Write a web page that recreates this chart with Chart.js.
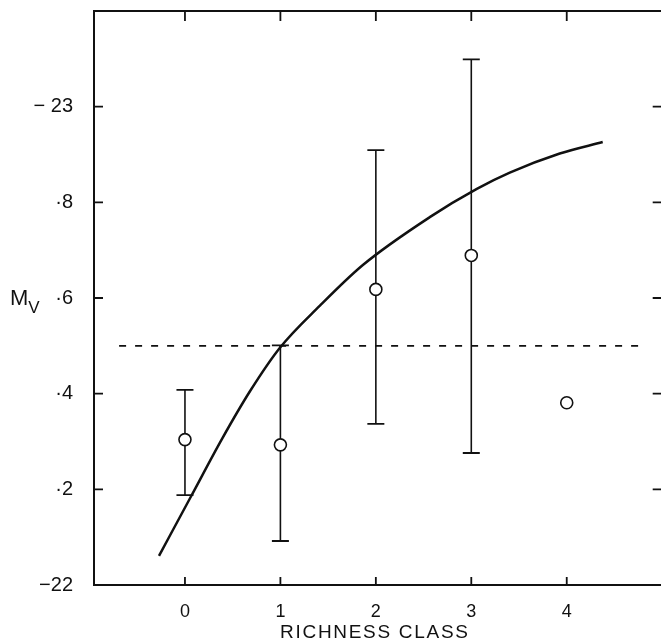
<!DOCTYPE html>
<html>
<head>
<meta charset="utf-8">
<script src="https://cdn.jsdelivr.net/npm/chart.js@4/dist/chart.umd.min.js"></script>
<style>
  html, body { margin: 0; padding: 0; background: #fff; overflow: hidden; }
  #c { position: absolute; left: 0; top: 0; width: 670px; height: 641px; }
</style>
</head>
<body>
<canvas id="c" width="670" height="641"></canvas>
<script>
// Richness classes with mean absolute magnitude and error-bar bounds
const classes   = [0, 1, 2, 3, 4];
const meanMv    = [-22.304, -22.293, -22.618, -22.689, -22.381];
const errBright = [-22.408, -22.501, -22.909, -23.099, null];
const errFaint  = [-22.188, -22.092, -22.337, -22.276, null];

// Model curve of Mv against richness class
const curveClass = [-0.272, 0.063, 0.387, 0.681, 0.995, 1.414, 1.864, 2.565, 3.058, 3.403, 3.927, 4.377];
const curveMv    = [-22.061, -22.185, -22.305, -22.405, -22.496, -22.584, -22.669, -22.769, -22.828, -22.862, -22.902, -22.926];

// Dashed constant level
const levelMv    = -22.5;
const levelSpan  = [-0.69, 4.82];

// Axis ticks and labels
const xTickValues = [0, 1, 2, 3, 4];
const xTickLabels = ['0', '1', '2', '3', '4'];
const yTickValues = [-23, -22.8, -22.6, -22.4, -22.2, -22];
const yTickLabels = ['\u2212 23', '\u00b78', '\u00b76', '\u00b74', '\u00b72', '\u221222'];
const xTitle = 'RICHNESS CLASS';
const yTitle = 'M';
const yTitleSub = 'V';

const INK = '#111';
const FONT = '"Liberation Sans", Arial, sans-serif';

const datasets = [];

// mean points (drawn on top)
datasets.push({
  data: classes.map((c, i) => ({ x: c, y: meanMv[i] })),
  showLine: false,
  pointStyle: 'circle',
  pointRadius: 6,
  pointBorderWidth: 1.6,
  pointBackgroundColor: '#fff',
  pointBorderColor: INK,
  order: 0
});

// error bars with caps
classes.forEach((c, i) => {
  if (errBright[i] === null) return;
  datasets.push({
    data: [{ x: c, y: errFaint[i] }, { x: c, y: errBright[i] }],
    showLine: true,
    borderColor: INK,
    borderWidth: 1.6,
    pointStyle: 'line',
    pointRadius: 8.5,
    pointBorderWidth: 1.8,
    pointBorderColor: INK,
    order: 2
  });
});

// model curve
datasets.push({
  data: curveClass.map((c, i) => ({ x: c, y: curveMv[i] })),
  showLine: true,
  borderColor: INK,
  borderWidth: 2.5,
  pointRadius: 0,
  cubicInterpolationMode: 'monotone',
  order: 1
});

// dashed level
datasets.push({
  data: levelSpan.map(x => ({ x: x, y: levelMv })),
  showLine: true,
  borderColor: INK,
  borderWidth: 1.7,
  borderDash: [7, 9],
  pointRadius: 0,
  order: 3
});

// inward tick marks, top frame line and axis titles
const framePlugin = {
  id: 'frame',
  afterDraw(chart) {
    const { ctx, chartArea: a, scales } = chart;
    const xs = scales.x, ys = scales.y;
    ctx.save();
    ctx.strokeStyle = INK;
    ctx.lineCap = 'butt';

    ctx.lineWidth = 2;
    ctx.beginPath();
    ctx.moveTo(a.left - 1, a.top);
    ctx.lineTo(a.right + 4, a.top);
    ctx.stroke();

    ctx.lineWidth = 1.8;
    ctx.beginPath();
    yTickValues.forEach(v => {
      const py = ys.getPixelForValue(v);
      ctx.moveTo(a.left, py); ctx.lineTo(a.left + 9, py);
      ctx.moveTo(a.right + 4, py); ctx.lineTo(a.right - 7, py);
    });
    xTickValues.forEach(v => {
      const px = xs.getPixelForValue(v);
      ctx.moveTo(px, a.bottom); ctx.lineTo(px, a.bottom - 8);
      ctx.moveTo(px, a.top); ctx.lineTo(px, a.top + 10);
    });
    ctx.stroke();

    ctx.fillStyle = INK;
    ctx.textBaseline = 'alphabetic';
    ctx.textAlign = 'center';
    ctx.font = '19px ' + FONT;
    ctx.letterSpacing = '1.7px';
    ctx.fillText(xTitle, (a.left + a.right) / 2 - 2, chart.height - 3);
    ctx.letterSpacing = '0px';

    ctx.textAlign = 'left';
    ctx.font = '22px ' + FONT;
    ctx.fillText(yTitle, 10, 305);
    const mW = ctx.measureText(yTitle).width;
    ctx.font = '17px ' + FONT;
    ctx.fillText(yTitleSub, 10 + mW, 313);
    ctx.restore();
  }
};

new Chart(document.getElementById('c'), {
  type: 'scatter',
  data: { datasets },
  plugins: [framePlugin],
  options: {
    responsive: false,
    animation: false,
    layout: { padding: { top: 11, right: 0, left: 0, bottom: 0 } },
    plugins: { legend: { display: false }, tooltip: { enabled: false } },
    scales: {
      x: {
        type: 'linear',
        min: -0.953,
        max: 4.974,
        grid: { display: false },
        border: { display: true, color: INK, width: 2 },
        afterBuildTicks: s => { s.ticks = xTickValues.map(v => ({ value: v })); },
        afterFit: s => { s.height = 56; s.paddingLeft = 0; s.paddingRight = 0; },
        ticks: {
          color: INK,
          font: { family: FONT, size: 18 },
          padding: 8,
          maxRotation: 0,
          callback: v => { const i = xTickValues.indexOf(v); return i < 0 ? '' : xTickLabels[i]; }
        }
      },
      y: {
        type: 'linear',
        reverse: true,
        min: -23.2,
        max: -22,
        grid: { display: false },
        border: { display: true, color: INK, width: 2 },
        afterBuildTicks: s => { s.ticks = yTickValues.map(v => ({ value: v })); },
        afterFit: s => { s.width = 94; s.paddingTop = 0; s.paddingBottom = 0; },
        ticks: {
          color: INK,
          font: { family: FONT, size: 20 },
          padding: 13,
          callback: v => {
            const i = yTickValues.findIndex(t => Math.abs(t - v) < 1e-6);
            return i < 0 ? '' : yTickLabels[i];
          }
        }
      }
    }
  }
});
</script>
</body>
</html>
